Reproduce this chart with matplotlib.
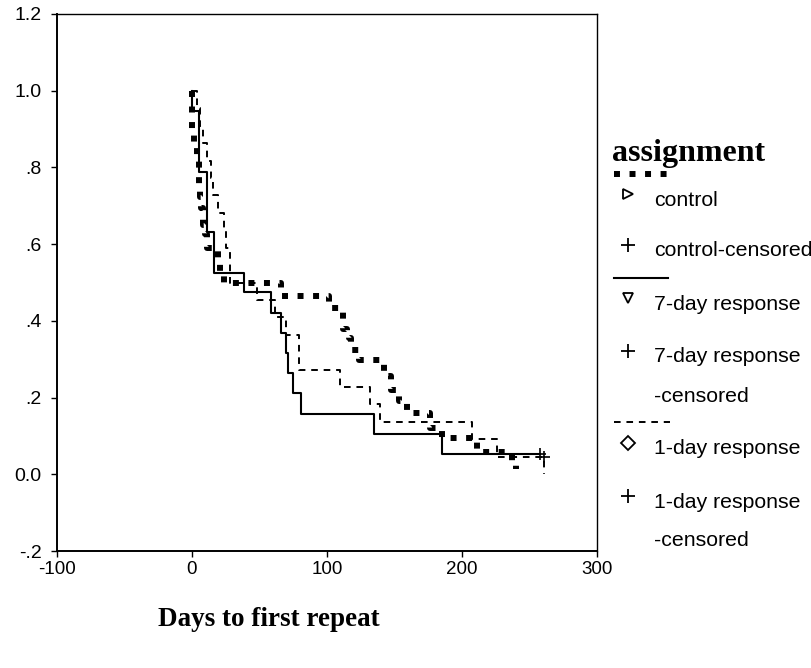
import matplotlib
matplotlib.use("Agg")
import matplotlib.pyplot as plt
from matplotlib.lines import Line2D

plt.rcParams["axes.unicode_minus"] = False

# Kaplan-Meier curves: drop times (days) and survival after each drop
ctrl_t = [0, 1.5, 3.5, 5, 6, 7, 8, 9.5, 11, 19.5, 21, 24, 66, 101.5, 112, 114.6, 116.5,
          117.8, 123.5, 142.5, 147.4, 153, 159, 176, 185, 211, 237, 240]
ctrl_s = [0.885, 0.86, 0.826, 0.75, 0.723, 0.693, 0.651, 0.627, 0.59, 0.558, 0.524, 0.50,
          0.464, 0.433, 0.38, 0.367, 0.355, 0.324, 0.298, 0.257, 0.22, 0.19, 0.16, 0.121,
          0.095, 0.058, 0.028, 0.015]

day7_t = [0, 5.5, 11, 16, 38.5, 58.3, 65.7, 70, 71.4, 74.6, 80.5, 135, 185]
day7_s = [0.947, 0.789, 0.632, 0.526, 0.474, 0.421, 0.368, 0.316, 0.263, 0.211, 0.158,
          0.105, 0.053]
day7_end = 258

day1_t = [4, 6, 8, 11, 14, 15.5, 19, 23.5, 25, 28, 48, 61.5, 70, 79, 79.5, 110, 132, 139,
          207.5, 226, 261]
day1_s = [0.955, 0.909, 0.864, 0.818, 0.773, 0.727, 0.682, 0.636, 0.591, 0.5, 0.4545,
          0.409, 0.364, 0.318, 0.273, 0.227, 0.182, 0.136, 0.091, 0.045, 0.0]

censor_x = [258, 261]
censor_y = [0.053, 0.045]

x_ticks = [-100, 0, 100, 200, 300]
y_ticks = [-0.2, 0.0, 0.2, 0.4, 0.6, 0.8, 1.0, 1.2]
y_labels = ["-.2", "0.0", ".2", ".4", ".6", ".8", "1.0", "1.2"]

legend_rows = [
    ("dotted", None, None),
    ("marker", ">", "control"),
    ("marker", "+", "control-censored"),
    ("solid", None, None),
    ("marker", "v", "7-day response"),
    ("marker", "+", "7-day response"),
    ("text", None, "-censored"),
    ("dashed", None, None),
    ("marker", "D", "1-day response"),
    ("marker", "+", "1-day response"),
    ("text", None, "-censored"),
]
legend_y = [174, 200, 251, 278, 304, 357, 396, 422, 449, 502, 541]

SANS = "Liberation Sans"
SERIF = "Liberation Serif"
DOT = dict(color="black", lw=4.3, dashes=(1, 1.6), dash_capstyle="butt")
DASH = dict(color="black", lw=1.4, dashes=(3.4, 3.0))
SOLID = dict(color="black", lw=1.5)


def km_path(times, levels, end=None):
    xs = [0] + list(times)
    ys = [1.0] + list(levels)
    if end is not None:
        xs.append(end)
        ys.append(levels[-1])
    return xs, ys


W, H = 812, 668
fig = plt.figure(figsize=(W / 100, H / 100), dpi=100)
ax = fig.add_axes([57 / W, 1 - 551 / H, 540 / W, 537 / H])

x, y = km_path(ctrl_t, ctrl_s)
ax.step(x, y, where="post", **DOT)
x, y = km_path(day1_t, day1_s)
ax.step(x, y, where="post", **DASH)
x, y = km_path(day7_t, day7_s, end=day7_end)
ax.step(x, y, where="post", **SOLID)
ax.plot(censor_x, censor_y, ls="none", marker="+", ms=9, mew=1.2, color="black")

ax.set_xlim(-100, 300)
ax.set_ylim(-0.2, 1.2)
ax.set_xticks(x_ticks)
ax.set_yticks(y_ticks)
ax.set_yticklabels(y_labels)
ax.tick_params(direction="out", length=4, width=1, labelsize=13.5)
ax.tick_params(axis="y", pad=7, labelsize=14)
for lab in ax.get_xticklabels() + ax.get_yticklabels():
    lab.set_family(SANS)
for side in ["left", "bottom"]:
    ax.spines[side].set_linewidth(1.4)
for side in ["top", "right"]:
    ax.spines[side].set_linewidth(1.0)

fig.text(269 / W, 1 - 620 / H, "Days to first repeat", family=SERIF, weight="bold",
         fontsize=19.5, ha="center", va="center")

# legend drawn on an overlay in pixel coordinates
lg = fig.add_axes([0, 0, 1, 1])
lg.set_xlim(0, W)
lg.set_ylim(H, 0)
lg.axis("off")
lg.text(612, 161, "assignment", family=SERIF, weight="bold", fontsize=23, va="baseline")
for (kind, mk, label), yy in zip(legend_rows, legend_y):
    if kind == "dotted":
        lg.add_line(Line2D([614, 668], [yy, yy], **DOT))
    elif kind == "solid":
        lg.add_line(Line2D([614, 668], [yy, yy], **SOLID))
    elif kind == "dashed":
        lg.add_line(Line2D([614, 670], [yy, yy], **DASH))
    else:
        if mk is not None:
            ms = 10 if mk == "+" else 7.5
            lg.plot([628], [yy - 6], marker=mk, ms=ms, mfc="white", mec="black", mew=1.3,
                    color="black", ls="none")
        lg.text(654, yy, label, family=SANS, fontsize=15.3, va="center")

fig.savefig("out.png", dpi=100)
